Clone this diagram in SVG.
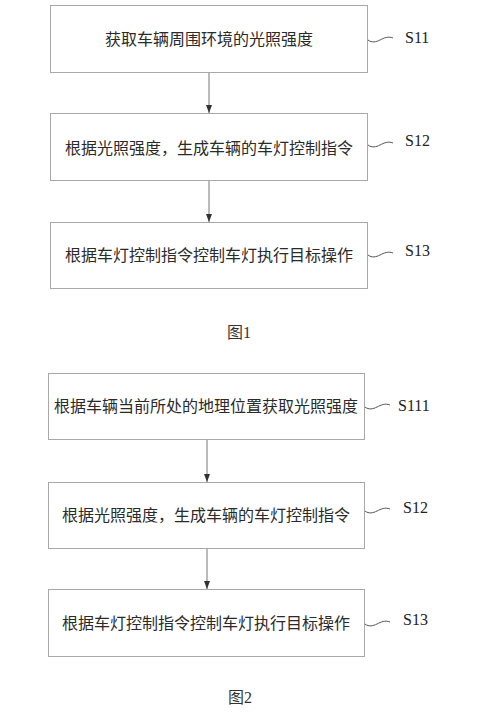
<svg xmlns="http://www.w3.org/2000/svg" width="477" height="717" viewBox="0 0 477 717">
<style>
.box{fill:#fff;stroke:#a8a8a8;stroke-width:1}
.t{font-family:"Noto Sans CJK SC","Noto Sans CJK JP",sans-serif;font-size:16px;fill:#2a2a2a;text-anchor:middle;dominant-baseline:central}
.lab{font-family:"Liberation Serif",serif;font-size:16px;fill:#222}
.cap{font-family:"Liberation Serif","Noto Sans CJK SC",serif;font-size:16px;fill:#333;text-anchor:middle}
.sq{fill:none;stroke:#555;stroke-width:1}
.ar{stroke:#777;stroke-width:1;fill:none;marker-end:url(#ah)}
</style>
<defs>
<marker id="ah" markerWidth="8" markerHeight="6" refX="8" refY="3" orient="auto" markerUnits="userSpaceOnUse" viewBox="0 0 8 6"><path d="M0,0 L8,3 L0,6 Z" fill="#333"/></marker>
</defs>
<rect width="477" height="717" fill="#fff"/>
<g id="connectors">
<line class="ar" x1="209" y1="72" x2="209" y2="113"/>
<line class="ar" x1="209" y1="181" x2="209" y2="222"/>
<line class="ar" x1="207" y1="439" x2="207" y2="482"/>
<line class="ar" x1="207" y1="548" x2="207" y2="589"/>
</g>
<g id="S11">
<rect class="box" x="50.5" y="5.5" width="317" height="67"/>
<text class="t" x="209" y="38">获取车辆周围环境的光照强度</text>
<path class="sq" d="M368,40 C372,43 376,42 380,40 C384,38 388,36 393,38"/>
<text class="lab" x="405" y="43">S11</text>
</g>
<g id="S12">
<rect class="box" x="50.5" y="113.5" width="317" height="67"/>
<text class="t" x="209" y="147">根据光照强度，生成车辆的车灯控制指令</text>
<path class="sq" d="M368,145 C372,148 376,147 380,145 C384,143 388,141 393,143"/>
<text class="lab" x="405" y="146">S12</text>
</g>
<g id="S13">
<rect class="box" x="50.5" y="222.5" width="317" height="66"/>
<text class="t" x="209" y="254">根据车灯控制指令控制车灯执行目标操作</text>
<path class="sq" d="M368,255 C372,258 376,257 380,255 C384,253 388,251 393,253"/>
<text class="lab" x="405" y="256">S13</text>
</g>
<g id="fig1">
<text class="cap" x="239" y="338">图1</text>
</g>
<g id="S111">
<rect class="box" x="48.5" y="373.5" width="316" height="66"/>
<text class="t" x="206" y="405">根据车辆当前所处的地理位置获取光照强度</text>
<path class="sq" d="M365,407 C369,410 373,409 377,407 C381,405 385,403 390,405"/>
<text class="lab" x="398" y="411">S111</text>
</g>
<g id="S12b">
<rect class="box" x="48.5" y="482.5" width="316" height="66"/>
<text class="t" x="206" y="514">根据光照强度，生成车辆的车灯控制指令</text>
<path class="sq" d="M365,511 C369,514 373,513 377,511 C381,509 385,507 390,509"/>
<text class="lab" x="403" y="513">S12</text>
</g>
<g id="S13b">
<rect class="box" x="48.5" y="589.5" width="316" height="67"/>
<text class="t" x="206" y="622">根据车灯控制指令控制车灯执行目标操作</text>
<path class="sq" d="M365,624 C369,627 373,626 377,624 C381,622 385,620 390,622"/>
<text class="lab" x="403" y="625">S13</text>
</g>
<g id="fig2">
<text class="cap" x="240" y="703">图2</text>
</g>
</svg>
